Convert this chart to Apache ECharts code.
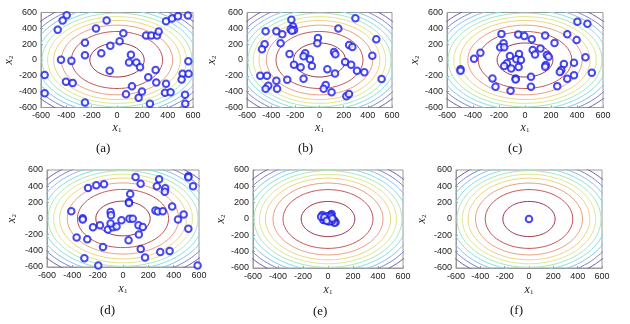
<!DOCTYPE html>
<html><head><meta charset="utf-8">
<script src="https://cdn.jsdelivr.net/npm/echarts@6/dist/echarts.min.js"></script>
<style>html,body{margin:0;padding:0;background:#fff}#c{width:630px;height:324px}</style>
</head><body><div id="c"></div>
<script>
// contour levels (radius of each level set, data units) and colours
const contourRadii = [215, 360, 440, 500, 548, 592, 635, 680, 725, 775];
const contourColors = ['#9c3a4c', '#c25656', '#eaa080', '#efd47e', '#dde890', '#a8e6bc', '#82dfe4', '#90bee8', '#7888cc', '#7060a8'];
const tickLabels = [-600, -400, -200, 0, 200, 400, 600];
const panelNames = ['(a)', '(b)', '(c)', '(d)', '(e)', '(f)'];

const pointsA = [[-397,566],[-429,499],[-468,381],[-82,499],[-166,398],[-253,217],[-253,61],[-124,86],[-53,179],[21,238],[50,339],[-442,2],[-360,-11],[-571,-188],[-403,-276],[-350,-289],[-571,-419],[-253,-537],[-58,-137],[110,65],[95,-32],[153,-32],[182,-91],[118,-331],[71,-432],[171,-478],[197,-398],[260,-554],[247,-219],[305,-126],[310,-284],[229,309],[271,309],[316,309],[329,360],[387,490],[434,524],[481,553],[560,562],[563,-15],[518,-175],[565,-175],[510,-246],[387,-301],[379,-415],[423,-406],[537,-440],[539,-554]];
const pointsB = [[-233,507],[-219,423],[-239,389],[-211,380],[-228,368],[-446,364],[-357,364],[-308,326],[-322,211],[-454,199],[-476,135],[297,528],[156,397],[-13,279],[-18,211],[470,262],[-248,76],[-118,85],[-132,47],[-79,8],[-63,-76],[-211,-59],[-156,-93],[245,190],[272,165],[120,101],[131,72],[212,-25],[262,-59],[437,55],[310,-135],[371,-156],[65,-118],[128,-169],[-132,-237],[-267,-249],[-490,-199],[-435,-199],[-357,-262],[-424,-326],[-446,-364],[-351,-364],[51,-317],[34,-364],[100,-406],[222,-457],[244,-431],[514,-241]];
const pointsC = [[403,482],[480,457],[-181,330],[-52,321],[-5,304],[52,262],[155,309],[227,216],[325,326],[397,254],[-165,211],[-191,161],[-160,161],[-343,93],[-392,17],[-496,-118],[-496,-135],[-116,51],[-46,76],[-67,8],[-31,0],[-139,-42],[-160,-76],[-106,-106],[-49,-89],[59,127],[119,144],[77,68],[168,63],[160,-63],[155,-85],[181,42],[299,-51],[279,-127],[268,-152],[377,-34],[377,-194],[325,-237],[248,-330],[465,34],[514,-161],[-250,-233],[-227,-338],[-111,-389],[-72,-233],[-72,-245],[46,-211],[46,-338]];
const pointsD = [[99,514],[285,485],[516,522],[516,510],[553,398],[139,431],[267,398],[333,373],[330,332],[-276,377],[-211,410],[-150,423],[57,303],[47,203],[47,191],[-408,91],[-318,4],[-318,-12],[-98,79],[-95,41],[-182,-83],[-12,-21],[51,-4],[77,-4],[-237,-108],[-119,-137],[-80,-108],[-51,-99],[-98,-62],[256,99],[275,87],[314,91],[388,149],[434,-12],[516,-128],[479,50],[122,-83],[156,-104],[125,-199],[44,-269],[-366,-236],[-282,-257],[-158,-352],[140,-377],[174,-481],[294,-414],[368,-402],[-305,-493],[-195,-580],[589,-580]];
const pointsE = [[-45,49],[29,61],[61,-41],[45,-12],[-27,-12],[-37,-12],[-11,8],[21,50],[43,-12],[51,-45],[-55,29],[0,0],[10,20],[-15,25],[5,-20],[20,10],[-20,5],[30,-25],[-5,35],[15,-5],[-30,20],[25,30],[8,-30],[-10,-22],[35,5]];
const pointsF = [[0,0]];
const panelPoints = [pointsA, pointsB, pointsC, pointsD, pointsE, pointsF];

// layout of the six panels [left, top, width, height, yNameGap, xNameGap]
const boxes = [
  [41, 12.5, 152, 95, 23, 12],
  [247, 12.5, 145, 95, 29, 12],
  [447, 12.5, 156, 95, 24, 12],
  [47, 170, 152, 97, 29, 15],
  [253, 170, 150, 98, 26, 15],
  [456, 170, 146, 98, 28, 15]
];
const captionPos = [[106,150],[308,150],[518,150],[110,312],[323,313],[520,312]];

function contourLine(r) {
  const pts = [];
  for (let a = 0; a <= 360; a += 3) {
    const t = a * Math.PI / 180;
    pts.push([r * Math.cos(t), r * Math.sin(t)]);
  }
  return pts;
}

const grids = [], xAxes = [], yAxes = [], series = [], graphics = [];
const nameRich = {
  x: {fontFamily: 'Liberation Serif', fontStyle: 'italic', fontSize: 12, color: '#222'},
  s: {fontFamily: 'Liberation Serif', fontSize: 7, color: '#222', verticalAlign: 'bottom', padding: [6, 0, 0, 0]}
};
boxes.forEach((b, i) => {
  grids.push({left: b[0], top: b[1], width: b[2], height: b[3], show: true, borderColor: '#9a9a9a', borderWidth: 1, backgroundColor: '#fff'});
  const common = {
    type: 'value', gridIndex: i, min: -600, max: 600, interval: 200,
    axisLine: {show: true, onZero: false, lineStyle: {color: '#9a9a9a', width: 1}},
    axisTick: {show: true, inside: true, length: 2, lineStyle: {color: '#9a9a9a'}},
    splitLine: {show: false},
    axisLabel: {fontFamily: 'Liberation Sans', fontSize: 9, color: '#222', margin: 4},
    nameLocation: 'middle', nameTextStyle: {rich: nameRich}
  };
  xAxes.push(Object.assign({}, common, {name: '{x|x}{s|1}', nameGap: b[5]}));
  yAxes.push(Object.assign({}, common, {name: '{x|x}{s|2}', nameGap: b[4], nameRotate: 90}));
  contourRadii.forEach((r, k) => {
    series.push({type: 'line', xAxisIndex: i, yAxisIndex: i, data: contourLine(r), showSymbol: false, symbol: 'none',
      clip: true, silent: true, lineStyle: {color: contourColors[k], width: 1}, animation: false, z: 1});
  });
  series.push({type: 'scatter', xAxisIndex: i, yAxisIndex: i, data: panelPoints[i], symbol: 'emptyCircle', symbolSize: 6.5,
    itemStyle: {color: '#1a1aee', borderColor: '#1a1aee', borderWidth: 1.3}, animation: false, z: 3});
  graphics.push({type: 'text', left: captionPos[i][0] - 10, top: captionPos[i][1] - 8,
    style: {text: panelNames[i], font: '13px "Liberation Serif"', fill: '#111'}});
});

const chart = echarts.init(document.getElementById('c'), null, {renderer: 'canvas'});
chart.setOption({animation: false, grid: grids, xAxis: xAxes, yAxis: yAxes, series: series, graphic: graphics});
</script></body></html>
